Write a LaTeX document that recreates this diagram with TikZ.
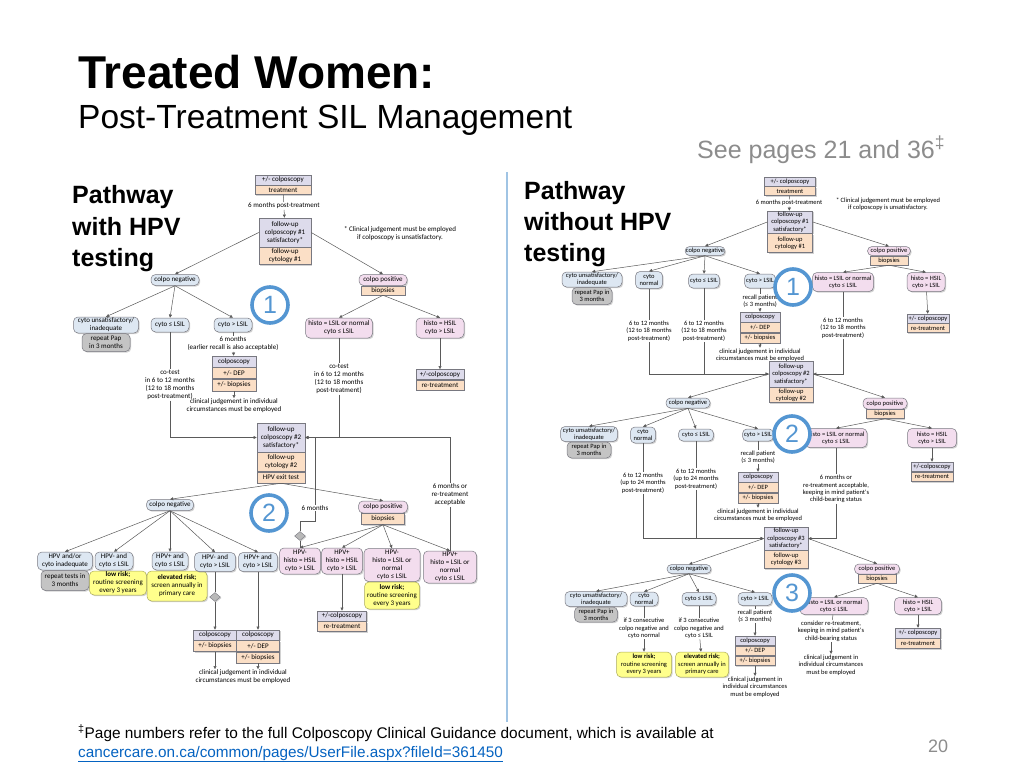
\documentclass[tikz,border=0pt]{standalone}
\usepackage{fontspec}
\setmainfont{Liberation Sans}
\newfontfamily\calib{Carlito}
\usepackage{tikz}
\usetikzlibrary{arrows.meta,positioning,shapes.geometric,shadows}

\definecolor{colpur}{RGB}{221,219,235}
\definecolor{colpeach}{RGB}{251,223,198}
\definecolor{pillblue}{RGB}{221,231,242}
\definecolor{pillpink}{RGB}{243,221,238}
\definecolor{pillgrey}{RGB}{196,196,196}
\definecolor{pillyel}{RGB}{255,255,140}
\definecolor{riskedge}{RGB}{170,170,90}
\definecolor{edgegrey}{RGB}{120,120,128}
\definecolor{linegrey}{RGB}{90,90,90}
\definecolor{ringblue}{RGB}{84,150,210}
\definecolor{sepblue}{RGB}{160,196,228}
\definecolor{linkblue}{RGB}{5,99,193}
\definecolor{seegrey}{RGB}{140,140,140}

\newcommand\lnf{\calib\fontsize{7}{8}\selectfont}
\newcommand\rnf{\calib\fontsize{6.5}{7.4}\selectfont}
\newcommand\nodefont{\lnf}

\tikzset{
  colpobox/.style={
    rectangle, draw=edgegrey, fill=colpur, line width=0.5pt,
    inner sep=0.8pt, align=center, font=\nodefont,
    drop shadow={shadow xshift=1.2pt, shadow yshift=-1.2pt, opacity=0.35}
  },
  trtbox/.style={colpobox, fill=colpeach},
  negpill/.style={colpobox, rounded corners=4.5pt, fill=pillblue},
  pospill/.style={negpill, fill=pillpink},
  repeatpill/.style={negpill, fill=pillgrey},
  riskpill/.style={negpill, fill=pillyel, draw=riskedge},
  notetext/.style={align=center, font=\nodefont, inner sep=0.6pt},
  flowline/.style={draw=linegrey, line width=0.5pt},
  flowarr/.style={flowline, -{Triangle[length=3.2pt,width=3pt]}},
  stepring/.style={
    circle, draw=ringblue, line width=3.6pt, fill=white,
    minimum size=36pt, inner sep=0pt, text=ringblue,
    font=\fontsize{25}{25}\selectfont
  },
  mergedia/.style={
    diamond, draw=edgegrey, fill=gray!55, minimum width=11pt,
    minimum height=9pt, inner sep=0pt,
    drop shadow={shadow xshift=1pt, shadow yshift=-1pt, opacity=0.35}
  },
  titletext/.style={anchor=base west, inner sep=0pt},
  headtext/.style={titletext, font=\fontsize{25}{25}\selectfont\bfseries}
}

\begin{document}
\begin{tikzpicture}[x=1pt, y=-1pt]
  \useasboundingbox (0,0) rectangle (1024,768);
  \fill[white] (0,0) rectangle (1024,768);

  % Titles
  \node[titletext, font=\fontsize{46}{46}\selectfont\bfseries] (ttl) at (78,88) {Treated Women:};
  \node[titletext, font=\fontsize{33.5}{34}\selectfont] (subttl) at (78,128) {Post-Treatment SIL Management};
  \node[titletext, font=\fontsize{25}{25}\selectfont, text=seegrey] (seepg) at (697,158) {See pages 21 and 36\textsuperscript{‡}};
  \node[headtext] (hdA1) at (72,203) {Pathway};
  \node[headtext] (hdA2) at (72,235) {with HPV};
  \node[headtext] (hdA3) at (72,266) {testing};
  \node[headtext] (hdB1) at (524,199) {Pathway};
  \node[headtext] (hdB2) at (524,230) {without HPV};
  \node[headtext] (hdB3) at (524,261) {testing};

  \draw[sepblue, line width=1.3pt] (507,172) -- (507,722);

  % ---------------- Left pathway (with HPV testing)
  \node[colpobox, minimum width=56pt, minimum height=10pt] (Lcol0) at (283,180) {+/- colposcopy};
  \node[trtbox, minimum width=56pt, minimum height=9pt, below=0pt of Lcol0] (Ltrt0) {treatment};
  \node[notetext] (Lm6) at (284,206) {6 months post-treatment};
  \node[colpobox, minimum width=52pt, minimum height=29pt] (Lfu1a) at (285,232.5) {follow-up\\colposcopy \#1\\satisfactory*};
  \node[trtbox, minimum width=52pt, minimum height=17pt, below=0pt of Lfu1a] (Lfu1b) {follow-up\\cytology \#1};
  \node[notetext] (Lstar) at (400,234) {* Clinical judgement must be employed\\if colposcopy is unsatisfactory.};

  \node[negpill, minimum width=48pt, minimum height=11pt] (Lneg1) at (175,280) {colpo negative};
  \node[pospill, minimum width=48pt, minimum height=11pt] (Lpos1) at (383,280) {colpo positive};
  \node[trtbox, minimum width=44pt, minimum height=9pt, below=0pt of Lpos1] (Lbio1) {biopsies};

  \node[negpill, minimum width=65pt, minimum height=16pt] (Lcu1) at (106,325) {cyto unsatisfactory/\\inadequate};
  \node[repeatpill, minimum width=48pt, minimum height=18pt, below=0pt of Lcu1] (Lrp1) {repeat Pap\\in 3 months};
  \node[negpill, minimum width=38pt, minimum height=14pt] (Lle1) at (170,325) {cyto ≤ LSIL};
  \node[negpill, minimum width=38pt, minimum height=14pt] (Lgt1) at (233,325) {cyto > LSIL};
  \node[notetext] (Lrc1) at (233,344) {6 months\\(earlier recall is also acceptable)};
  \node[colpobox, minimum width=44pt, minimum height=11pt] (Lcp1) at (234,361.5) {colposcopy};
  \node[trtbox, minimum width=44pt, minimum height=11pt, below=0pt of Lcp1] (Ldep1) {+/- DEP};
  \node[trtbox, minimum width=44pt, minimum height=12pt, below=0pt of Ldep1] (Lbx1) {+/- biopsies};
  \node[notetext] (Lcj1) at (234,406) {clinical judgement in individual\\circumstances must be employed};
  \node[notetext] (Lct1) at (170,385) {co-test\\in 6 to 12 months\\(12 to 18 months\\post-treatment)};

  \node[pospill, minimum width=67pt, minimum height=20pt] (Lhl1) at (339,328) {histo = LSIL or normal\\cyto ≤ LSIL};
  \node[pospill, minimum width=48pt, minimum height=20pt] (Lhh1) at (440,328) {histo = HSIL\\cyto > LSIL};
  \node[notetext] (Lct2) at (339,379) {co-test\\in 6 to 12 months\\(12 to 18 months\\post-treatment)};
  \node[colpobox, minimum width=48pt, minimum height=10pt] (Lrt1) at (440,374.5) {+/-colposcopy};
  \node[trtbox, minimum width=48pt, minimum height=10pt, below=0pt of Lrt1] (Lrt1b) {re-treatment};

  \node[colpobox, minimum width=48pt, minimum height=29pt] (Lfu2a) at (281,437.5) {follow-up\\colposcopy \#2\\satisfactory*};
  \node[trtbox, minimum width=48pt, minimum height=19pt, below=0pt of Lfu2a] (Lfu2b) {follow-up\\cytology \#2};
  \node[trtbox, minimum width=48pt, minimum height=11pt, below=0pt of Lfu2b] (Lfu2c) {HPV exit test};

  \node[negpill, minimum width=47pt, minimum height=11pt] (Lneg2) at (170,505) {colpo negative};
  \node[pospill, minimum width=49pt, minimum height=12pt] (Lpos2) at (383,507) {colpo positive};
  \node[trtbox, minimum width=43pt, minimum height=11pt, below=0pt of Lpos2] (Lbio2) {biopsies};
  \node[notetext] (L6m) at (315,508) {6 months};
  \node[notetext] (L6mo) at (450,495) {6 months or\\re-treatment\\acceptable};

  \node[negpill, minimum width=55pt, minimum height=18pt] (Lh1) at (65,561) {HPV and/or\\cyto inadequate};
  \node[repeatpill, minimum width=48pt, minimum height=20pt, below=0pt of Lh1] (Lrp2) {repeat tests in\\3 months};
  \node[negpill, minimum width=38pt, minimum height=18pt] (Lh2) at (114,561) {HPV- and\\cyto ≤ LSIL};
  \node[riskpill, minimum width=57pt, minimum height=24pt] (Lr1) at (118,583) {\textbf{low risk;}\\routine screening\\every 3 years};
  \node[negpill, minimum width=36pt, minimum height=18pt] (Lh3) at (170,561) {HPV+ and\\cyto ≤ LSIL};
  \node[riskpill, minimum width=60pt, minimum height=30pt] (Lr2) at (177,586) {\textbf{elevated risk;}\\screen annually in\\primary care};
  \node[negpill, minimum width=41pt, minimum height=19pt] (Lh4) at (215,562) {HPV- and\\cyto > LSIL};
  \node[negpill, minimum width=39pt, minimum height=19pt] (Lh5) at (258,562) {HPV+ and\\cyto > LSIL};
  \node[pospill, minimum width=41pt, minimum height=26pt] (Lh6) at (300,561) {HPV-\\histo = HSIL\\cyto > LSIL};
  \node[pospill, minimum width=41pt, minimum height=26pt] (Lh7) at (342,561) {HPV+\\histo = HSIL\\cyto > LSIL};
  \node[pospill, minimum width=56pt, minimum height=33pt] (Lh8) at (392,565) {HPV-\\histo = LSIL or\\normal\\cyto ≤ LSIL};
  \node[riskpill, minimum width=55pt, minimum height=27pt, below=0pt of Lh8] (Lr3) {\textbf{low risk;}\\routine screening\\every 3 years};
  \node[pospill, minimum width=53pt, minimum height=32pt] (Lh9) at (450,567) {HPV+\\histo = LSIL or\\normal\\cyto ≤ LSIL};
  \node[mergedia] (Ldia1) at (300,536) {};
  \node[mergedia] (Ldia2) at (215,597) {};

  \node[colpobox, minimum width=49pt, minimum height=10pt] (Lrt3) at (342,616) {+/-colposcopy};
  \node[trtbox, minimum width=49pt, minimum height=10pt, below=0pt of Lrt3] (Lrt3b) {re-treatment};
  \node[colpobox, minimum width=43pt, minimum height=10pt] (Lcp2) at (215,635) {colposcopy};
  \node[trtbox, minimum width=43pt, minimum height=11pt, below=0pt of Lcp2] (Lbx2) {+/- biopsies};
  \node[colpobox, minimum width=43pt, minimum height=10pt] (Lcp3) at (258,635) {colposcopy};
  \node[trtbox, minimum width=43pt, minimum height=11pt, below=0pt of Lcp3] (Ldep3) {+/- DEP};
  \node[trtbox, minimum width=43pt, minimum height=11pt, below=0pt of Ldep3] (Lbx3) {+/- biopsies};
  \node[notetext] (Lcj2) at (243,677) {clinical judgement in individual\\circumstances must be employed};

  % connectors, left
  \draw[flowline] (Ltrt0) -- (Lm6);
  \draw[flowarr] (Lm6) -- (Lfu1a);
  \draw[flowarr] (Lfu1a.west) -- (Lneg1.north);
  \draw[flowarr] (Lfu1a.east) -- (Lpos1.north);
  \foreach \n in {Lcu1,Lle1,Lgt1}
    \draw[flowarr] (Lneg1.south) -- (\n.north);
  \draw[flowline] (Lgt1) -- (Lrc1);
  \draw[flowarr] (Lrc1) -- (Lcp1);
  \draw[flowarr] (Lbx1) -- (Lcj1);
  \draw[flowline] (Lle1) -- (Lct1);
  \draw[flowarr] (Lct1) |- (Lfu2a.west);
  \foreach \n in {Lhl1,Lhh1}
    \draw[flowarr] (Lbio1.south) -- (\n.north);
  \draw[flowarr] (Lhh1) -- (Lrt1);
  \draw[flowline] (Lhl1) -- (Lct2);
  \draw[flowarr] (Lct2) |- (Lfu2a.east);

  \draw[flowarr] (Lfu2c.south) -- (Lneg2.north);
  \draw[flowarr] (Lfu2c.south) -- (Lpos2.north);
  \foreach \n in {Lh1,Lh2,Lh3,Lh4,Lh5}
    \draw[flowarr] (Lneg2.south) -- (\n.north);
  \foreach \n in {Lh6,Lh7,Lh8,Lh9}
    \draw[flowarr] (Lbio2.south) -- (\n.north);
  \coordinate (Lkink) at (315,521);
  \draw[flowline] (Lh6.north) -- (Ldia1);
  \draw[flowline] (Ldia1) |- (Lkink) -- (L6m);
  \draw[flowarr] (L6m) |- (Lfu2a.east);
  \draw[flowline] (Lh9) -- (L6mo);
  \draw[flowarr] (L6mo) |- (Lfu2a.east);
  \draw[flowline] (Lh4) -- (Ldia2);
  \draw[flowarr] (Ldia2) -- (Lcp2);
  \draw[flowarr] (Lh5) -- (Lcp3);
  \draw[flowarr] (Lh7) -- (Lrt3);
  \draw[flowarr] (Lbx2.south) -- (Lbx2.south |- Lcj2.north);
  \draw[flowarr] (Lbx3.south) -- (Lbx3.south |- Lcj2.north);

  \node[stepring] (Lring1) at (270,305) {1};
  \node[stepring] (Lring2) at (269,513) {2};

  % ---------------- Right pathway (without HPV testing)
  \begin{scope}
  \renewcommand\nodefont{\rnf}
  \node[colpobox, minimum width=51pt, minimum height=9pt] (Rcol0) at (790,181.5) {+/- colposcopy};
  \node[trtbox, minimum width=51pt, minimum height=9pt, below=0pt of Rcol0] (Rtrt0) {treatment};
  \node[notetext] (Rm6) at (789,203) {6 months post-treatment};
  \node[colpobox, minimum width=45pt, minimum height=22pt] (Rfu1a) at (790,222) {follow-up\\colposcopy \#1\\satisfactory*};
  \node[trtbox, minimum width=45pt, minimum height=19pt, below=0pt of Rfu1a] (Rfu1b) {follow-up\\cytology \#1};
  \node[notetext] (Rstar) at (888,204) {* Clinical judgement must be employed\\if colposcopy is unsatisfactory.};

  \node[negpill, minimum width=38pt, minimum height=9pt] (Rneg1) at (705,251) {colpo negative};
  \node[pospill, minimum width=43pt, minimum height=9pt] (Rpos1) at (889,251) {colpo positive};
  \node[trtbox, minimum width=38pt, minimum height=9pt, below=0pt of Rpos1] (Rbio1) {biopsies};

  \node[negpill, minimum width=60pt, minimum height=15pt] (Rcu1) at (592,279.5) {cyto unsatisfactory/\\inadequate};
  \node[repeatpill, minimum width=40pt, minimum height=17pt, below=0pt of Rcu1] (Rrp1) {repeat Pap in\\3 months};
  \node[negpill, minimum width=27pt, minimum height=17pt] (Rcn1) at (649,280) {cyto\\normal};
  \node[negpill, minimum width=31pt, minimum height=14pt] (Rle1) at (704,281) {cyto ≤ LSIL};
  \node[negpill, minimum width=31pt, minimum height=14pt] (Rgt1) at (760,281) {cyto > LSIL};
  \node[pospill, minimum width=61pt, minimum height=19pt] (Rhl1) at (843,282) {histo = LSIL or normal\\cyto ≤ LSIL};
  \node[pospill, minimum width=38pt, minimum height=19pt] (Rhh1) at (926,282) {histo = HSIL\\cyto > LSIL};
  \node[notetext] (Rrc1) at (760,301) {recall patient\\(≤ 3 months)};
  \node[colpobox, minimum width=40pt, minimum height=10pt] (Rcp1) at (760,317) {colposcopy};
  \node[trtbox, minimum width=40pt, minimum height=10pt, below=0pt of Rcp1] (Rdep1) {+/- DEP};
  \node[trtbox, minimum width=40pt, minimum height=10pt, below=0pt of Rdep1] (Rbx1) {+/- biopsies};
  \node[notetext] (Rcj1) at (760,355) {clinical judgement in individual\\circumstances must be employed};
  \node[notetext] (Rt1) at (649,331) {6 to 12 months\\(12 to 18 months\\post-treatment)};
  \node[notetext] (Rt2) at (704,331) {6 to 12 months\\(12 to 18 months\\post-treatment)};
  \node[notetext] (Rt3) at (843,328) {6 to 12 months\\(12 to 18 months\\post-treatment)};
  \node[colpobox, minimum width=42pt, minimum height=9pt] (Rrt1) at (928,318.5) {+/- colposcopy};
  \node[trtbox, minimum width=42pt, minimum height=9pt, below=0pt of Rrt1] (Rrt1b) {re-treatment};

  \node[colpobox, minimum width=44pt, minimum height=26pt] (Rfu2a) at (791,374) {follow-up\\colposcopy \#2\\satisfactory*};
  \node[trtbox, minimum width=44pt, minimum height=15pt, below=0pt of Rfu2a] (Rfu2b) {follow-up\\cytology \#2};

  \node[negpill, minimum width=44pt, minimum height=10pt] (Rneg2) at (688,403) {colpo negative};
  \node[pospill, minimum width=44pt, minimum height=11pt] (Rpos2) at (885,403.5) {colpo positive};
  \node[trtbox, minimum width=38pt, minimum height=9pt, below=0pt of Rpos2] (Rbio2) {biopsies};

  \node[negpill, minimum width=57pt, minimum height=15pt] (Rcu2) at (589,434) {cyto unsatisfactory/\\inadequate};
  \node[repeatpill, minimum width=44pt, minimum height=16pt, below=0pt of Rcu2] (Rrp2) {repeat Pap in\\3 months};
  \node[negpill, minimum width=25pt, minimum height=16pt] (Rcn2) at (643,435) {cyto\\normal};
  \node[negpill, minimum width=35pt, minimum height=12pt] (Rle2) at (696,435) {cyto ≤ LSIL};
  \node[negpill, minimum width=31pt, minimum height=12pt] (Rgt2) at (758,435) {cyto > LSIL};
  \node[pospill, minimum width=62pt, minimum height=19pt] (Rhl2) at (836,438) {histo = LSIL or normal\\cyto ≤ LSIL};
  \node[pospill, minimum width=49pt, minimum height=19pt] (Rhh2) at (932,438) {histo = HSIL\\cyto > LSIL};
  \node[colpobox, minimum width=42pt, minimum height=9.5pt] (Rrt2) at (932,466.75) {+/-colposcopy};
  \node[trtbox, minimum width=42pt, minimum height=9.5pt, below=0pt of Rrt2] (Rrt2b) {re-treatment};
  \node[notetext] (Rrc2) at (758,457) {recall patient\\(≤ 3 months)};
  \node[colpobox, minimum width=40pt, minimum height=10pt] (Rcp2) at (758,477) {colposcopy};
  \node[trtbox, minimum width=40pt, minimum height=10pt, below=0pt of Rcp2] (Rdep2) {+/- DEP};
  \node[trtbox, minimum width=40pt, minimum height=10pt, below=0pt of Rdep2] (Rbx2) {+/- biopsies};
  \node[notetext] (Rcj2) at (758,515) {clinical judgement in individual\\circumstances must be employed};
  \node[notetext] (Rt4) at (643,483) {6 to 12 months\\(up to 24 months\\post-treatment)};
  \node[notetext] (Rt5) at (696,479) {6 to 12 months\\(up to 24 months\\post-treatment)};
  \node[notetext] (Rt6) at (836,489) {6 months or\\re-treatment acceptable,\\keeping in mind patient's\\child-bearing status};

  \node[colpobox, minimum width=44pt, minimum height=23pt] (Rfu3a) at (786,538.5) {follow-up\\colposcopy \#3\\satisfactory*};
  \node[trtbox, minimum width=44pt, minimum height=18pt, below=0pt of Rfu3a] (Rfu3b) {follow-up\\cytology \#3};

  \node[negpill, minimum width=44pt, minimum height=9pt] (Rneg3) at (689,569) {colpo negative};
  \node[pospill, minimum width=45pt, minimum height=10pt] (Rpos3) at (877,569) {colpo positive};
  \node[trtbox, minimum width=38pt, minimum height=8.5pt, below=0pt of Rpos3] (Rbio3) {biopsies};

  \node[negpill, minimum width=62pt, minimum height=15pt] (Rcu3) at (596,599) {cyto unsatisfactory/\\inadequate};
  \node[repeatpill, minimum width=43pt, minimum height=15pt, below=0pt of Rcu3] (Rrp3) {repeat Pap in\\3 months};
  \node[negpill, minimum width=28pt, minimum height=14pt] (Rcn3) at (644,599) {cyto\\normal};
  \node[negpill, minimum width=34pt, minimum height=13pt] (Rle3) at (699,599) {cyto ≤ LSIL};
  \node[negpill, minimum width=34pt, minimum height=13pt] (Rgt3) at (755,599) {cyto > LSIL};
  \node[pospill, minimum width=68pt, minimum height=17pt] (Rhl3) at (834,606) {histo = LSIL or normal\\cyto ≤ LSIL};
  \node[pospill, minimum width=47pt, minimum height=17pt] (Rhh3) at (918,606) {histo = HSIL\\cyto > LSIL};
  \node[notetext] (Rif1) at (644,628.5) {if 3 consecutive\\colpo negative and\\cyto normal};
  \node[notetext] (Rif2) at (699,628.5) {if 3 consecutive\\colpo negative and\\cyto ≤ LSIL};
  \node[riskpill, minimum width=55pt, minimum height=25pt] (Rlr) at (644,664.5) {\textbf{low risk;}\\routine screening\\every 3 years};
  \node[riskpill, minimum width=53pt, minimum height=25pt] (Rer) at (702,664.5) {\textbf{elevated risk;}\\screen annually in\\primary care};
  \node[notetext] (Rrc3) at (755,616) {recall patient\\(≤ 3 months)};
  \node[colpobox, minimum width=40pt, minimum height=9.5pt] (Rcp3) at (755,640.75) {colposcopy};
  \node[trtbox, minimum width=40pt, minimum height=9.5pt, below=0pt of Rcp3] (Rdep3) {+/- DEP};
  \node[trtbox, minimum width=40pt, minimum height=9.5pt, below=0pt of Rdep3] (Rbx3) {+/- biopsies};
  \node[notetext] (Rcj3) at (755,687) {clinical judgement in\\individual circumstances\\must be employed};
  \node[notetext] (Rcr) at (831,631) {consider re-treatment,\\keeping in mind patient's\\child-bearing status};
  \node[notetext] (Rcj4) at (831,665) {clinical judgement in\\individual circumstances\\must be employed};
  \node[colpobox, minimum width=45pt, minimum height=10pt] (Rrt3) at (918,633) {+/- colposcopy};
  \node[trtbox, minimum width=45pt, minimum height=10pt, below=0pt of Rrt3] (Rrt3b) {re-treatment};
  \end{scope}

  % connectors, right
  \draw[flowline] (Rtrt0) -- (Rm6);
  \draw[flowarr] (Rm6) -- (Rfu1a);
  \draw[flowarr] (Rfu1a.west) -- (Rneg1.north);
  \draw[flowarr] (Rfu1a.east) -- (Rpos1.north);
  \foreach \n in {Rcu1,Rcn1,Rle1,Rgt1}
    \draw[flowarr] (Rneg1.south) -- (\n.north);
  \foreach \n in {Rhl1,Rhh1}
    \draw[flowarr] (Rbio1.south) -- (\n.north);
  \draw[flowline] (Rgt1) -- (Rrc1);
  \draw[flowarr] (Rrc1) -- (Rcp1);
  \draw[flowarr] (Rbx1) -- (Rcj1);
  \draw[flowline] (Rcn1) -- (Rt1);
  \draw[flowarr] (Rt1) |- (Rfu2a.west);
  \draw[flowline] (Rle1) -- (Rt2);
  \draw[flowarr] (Rt2) |- (Rfu2a.west);
  \draw[flowline] (Rhl1) -- (Rt3);
  \draw[flowarr] (Rt3) |- (Rfu2a.east);
  \draw[flowarr] (Rhh1) -- (Rrt1);

  \draw[flowarr] (Rfu2a.west) -- (Rneg2.north);
  \draw[flowarr] (Rfu2a.east) -- (Rpos2.north);
  \foreach \n in {Rcu2,Rcn2,Rle2,Rgt2}
    \draw[flowarr] (Rneg2.south) -- (\n.north);
  \foreach \n in {Rhl2,Rhh2}
    \draw[flowarr] (Rbio2.south) -- (\n.north);
  \draw[flowline] (Rgt2) -- (Rrc2);
  \draw[flowarr] (Rrc2) -- (Rcp2);
  \draw[flowarr] (Rbx2) -- (Rcj2);
  \draw[flowline] (Rcn2) -- (Rt4);
  \draw[flowarr] (Rt4) |- (Rfu3a.west);
  \draw[flowline] (Rle2) -- (Rt5);
  \draw[flowarr] (Rt5) |- (Rfu3a.west);
  \draw[flowline] (Rhl2) -- (Rt6);
  \draw[flowarr] (Rt6) |- (Rfu3a.east);
  \draw[flowarr] (Rhh2) -- (Rrt2);

  \draw[flowarr] (Rfu3a.west) -- (Rneg3.north);
  \draw[flowarr] (Rfu3a.east) -- (Rpos3.north);
  \foreach \n in {Rcu3,Rcn3,Rle3,Rgt3}
    \draw[flowarr] (Rneg3.south) -- (\n.north);
  \foreach \n in {Rhl3,Rhh3}
    \draw[flowarr] (Rbio3.south) -- (\n.north);
  \draw[flowline] (Rcn3) -- (Rif1);
  \draw[flowarr] (Rif1) -- (Rlr);
  \draw[flowline] (Rle3) -- (Rif2);
  \draw[flowarr] (Rif2) -- (Rer);
  \draw[flowline] (Rgt3) -- (Rrc3);
  \draw[flowarr] (Rrc3) -- (Rcp3);
  \draw[flowarr] (Rbx3) -- (Rcj3);
  \draw[flowline] (Rhl3) -- (Rcr);
  \draw[flowarr] (Rcr) -- (Rcj4);
  \draw[flowarr] (Rhh3) -- (Rrt3);

  \node[stepring] (Rring1) at (793,287) {1};
  \node[stepring] (Rring2) at (792,434) {2};
  \node[stepring] (Rring3) at (792,593) {3};

  % Footer
  \node[titletext, font=\fontsize{15.4}{15.4}\selectfont] (fnote) at (78,738) {\textsuperscript{‡}Page numbers refer to the full Colposcopy Clinical Guidance document, which is available at};
  \node[titletext, font=\fontsize{15.3}{15.3}\selectfont, text=linkblue] (flink) at (78,757) {\underline{cancercare.on.ca/common/pages/UserFile.aspx?fileId=361450}};
  \node[titletext, font=\fontsize{18}{18}\selectfont, text=seegrey] (pgno) at (928,752) {20};
\end{tikzpicture}
\end{document}
